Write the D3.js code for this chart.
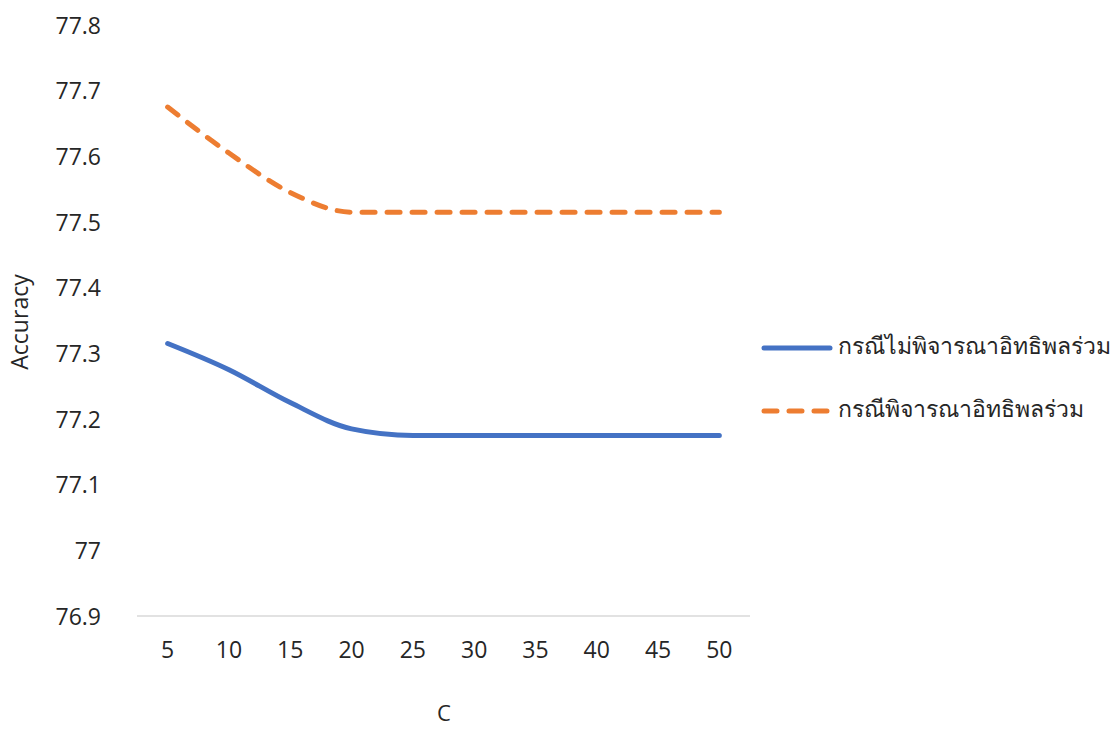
<!DOCTYPE html>
<html>
<head>
<meta charset="utf-8">
<script src="https://cdn.jsdelivr.net/npm/d3@7"></script>
<style>
  body { margin: 0; background: #fff; }
  svg { display: block; font-family: "Open Sans", "Noto Sans", sans-serif; }
</style>
</head>
<body>
<svg id="chart" width="1112" height="729"></svg>
<script>
// Regularisation parameter C on the x axis
const categories = [5, 10, 15, 20, 25, 30, 35, 40, 45, 50];
// Accuracy without interaction effects
const noInteraction = [77.315, 77.275, 77.225, 77.185, 77.175, 77.175, 77.175, 77.175, 77.175, 77.175];
// Accuracy with interaction effects
const withInteraction = [77.675, 77.605, 77.545, 77.515, 77.515, 77.515, 77.515, 77.515, 77.515, 77.515];
const yTicks = [76.9, 77, 77.1, 77.2, 77.3, 77.4, 77.5, 77.6, 77.7, 77.8];
const seriesNames = ["กรณีไม่พิจารณาอิทธิพลร่วม", "กรณีพิจารณาอิทธิพลร่วม"];

const svg = d3.select("#chart");
const plot = { left: 137, right: 750, top: 25, bottom: 616 };

const x = d3.scaleBand().domain(categories).range([plot.left, plot.right]);
const y = d3.scaleLinear().domain([76.9, 77.8]).range([plot.bottom, plot.top]);

// baseline
svg.append("line")
  .attr("x1", plot.left).attr("x2", plot.right)
  .attr("y1", y(76.9)).attr("y2", y(76.9))
  .attr("stroke", "#d9d9d9").attr("stroke-width", 1.5);

// y axis labels
const yAxis = d3.axisLeft(y).tickValues(yTicks).tickSize(0).tickPadding(0)
  .tickFormat(d => d3.format("")(+d.toFixed(1)));
svg.append("g").attr("transform", `translate(101,0)`).call(yAxis)
  .call(g => g.select(".domain").remove())
  .selectAll("text").attr("font-size", 23).attr("fill", "#262626")
  .attr("font-family", "'Open Sans', sans-serif").attr("dy", "0.35em");

// x axis labels
const xAxis = d3.axisBottom(x).tickSize(0).tickPadding(0);
svg.append("g").attr("transform", `translate(0,650)`).call(xAxis)
  .call(g => g.select(".domain").remove())
  .selectAll("text").attr("font-size", 23).attr("fill", "#262626")
  .attr("font-family", "'Open Sans', sans-serif").attr("dy", "0.35em");

// axis titles
svg.append("text").attr("x", 444).attr("y", 715)
  .attr("text-anchor", "middle").attr("dominant-baseline", "middle")
  .attr("font-size", 22).attr("fill", "#262626").text("C");
svg.append("text")
  .attr("transform", "translate(22,322) rotate(-90)")
  .attr("text-anchor", "middle").attr("dominant-baseline", "middle")
  .attr("font-size", 23).attr("fill", "#262626").text("Accuracy");

const line = d3.line()
  .x((d, i) => x(categories[i]) + x.bandwidth() / 2)
  .y(d => y(d))
  .curve(d3.curveMonotoneX);

const series = [
  { name: seriesNames[0], values: noInteraction, color: "#4472c4", dash: null },
  { name: seriesNames[1], values: withInteraction, color: "#ed7d31", dash: "13,12" }
];

series.forEach(s => {
  svg.append("path").datum(s.values)
    .attr("d", line)
    .attr("fill", "none")
    .attr("stroke", s.color)
    .attr("stroke-width", 5)
    .attr("stroke-linecap", "round")
    .attr("stroke-linejoin", "round")
    .attr("stroke-dasharray", s.dash);
});

// legend
const legend = svg.append("g");
series.forEach((s, i) => {
  const ly = 348 + i * 63;
  legend.append("line")
    .attr("x1", 764).attr("x2", 830).attr("y1", ly).attr("y2", ly)
    .attr("stroke", s.color).attr("stroke-width", 5)
    .attr("stroke-linecap", "round")
    .attr("stroke-dasharray", s.dash ? "13,12" : null);
  legend.append("text")
    .attr("x", 838).attr("y", ly)
    .attr("dominant-baseline", "middle")
    .attr("font-size", 23).attr("fill", "#262626")
    .text(s.name);
});
</script>
</body>
</html>
